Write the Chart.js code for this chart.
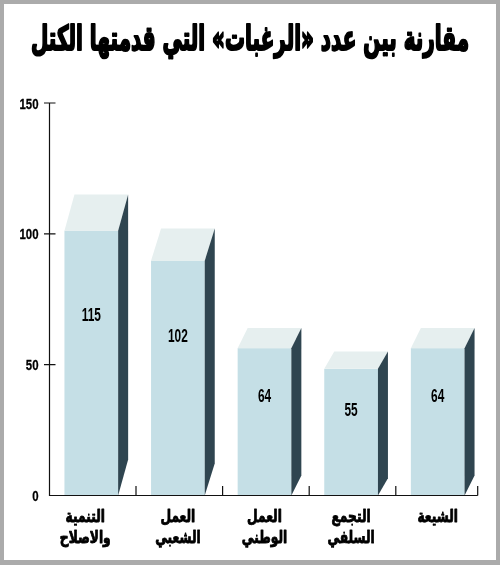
<!DOCTYPE html>
<html lang="ar">
<head>
<meta charset="utf-8">
<script src="https://cdn.jsdelivr.net/npm/chart.js@4"></script>
<style>
  html, body { margin: 0; padding: 0; background: #ababab; }
  #sheet { position: absolute; left: 4px; top: 4px; width: 492px; height: 556px; background: #fff; }
  canvas { position: absolute; left: 0; top: 0; }
</style>
</head>
<body>
<div id="sheet"></div>
<canvas id="chart" width="500" height="565" dir="rtl"></canvas>
<script>
const titleText = 'مقارنة بين عدد «الرغبات» التي قدمتها الكتل';
const categories = [
  ['التنمية', 'والاصلاح'],
  ['العمل', 'الشعبي'],
  ['العمل', 'الوطني'],
  ['التجمع', 'السلفي'],
  ['الشيعة']
];
const requests = [115, 102, 64, 55, 64];
const yTicks = [0, 50, 100, 150];

const numberFont = '"Liberation Sans", sans-serif';
const arabicFont = '"DejaVu Sans", sans-serif';

// the boxes are faked 3d: the back edge sits on the value, the front is 12% lower
const depthRatio = 0.12;
const sideWidth = 10;

// the original type is condensed and very heavy, no installed font has that,
// so squeeze the text sideways and thicken it with a stroke
function drawText(ctx, text, x, y, font, squeeze, stroke, align) {
  ctx.save();
  ctx.direction = 'rtl';
  ctx.font = font;
  ctx.fillStyle = '#000';
  ctx.strokeStyle = '#000';
  ctx.lineJoin = 'round';
  ctx.lineWidth = stroke;
  ctx.textAlign = align;
  ctx.translate(x, y);
  ctx.scale(squeeze, 1);
  ctx.fillText(text, 0, 0);
  if (stroke) ctx.strokeText(text, 0, 0);
  ctx.restore();
}

const boxes = {
  id: 'boxes',
  beforeDatasetsDraw(chart) {
    const ctx = chart.ctx;
    chart.getDatasetMeta(0).data.forEach((bar) => {
      const { x, y, base, width } = bar.getProps(['x', 'y', 'base', 'width'], true);
      const left = x - width / 2;
      const right = x + width / 2;
      const depth = (base - y) * depthRatio;
      const front = y + depth;

      ctx.fillStyle = '#c5dfe6';
      ctx.fillRect(left, front, width, base - front);

      ctx.fillStyle = '#e6efef';
      ctx.beginPath();
      ctx.moveTo(left, front);
      ctx.lineTo(left + sideWidth, y);
      ctx.lineTo(right + sideWidth, y);
      ctx.lineTo(right, front);
      ctx.closePath();
      ctx.fill();

      ctx.fillStyle = '#2f4550';
      ctx.beginPath();
      ctx.moveTo(right, front);
      ctx.lineTo(right + sideWidth, y);
      ctx.lineTo(right + sideWidth, base - depth);
      ctx.lineTo(right, base);
      ctx.closePath();
      ctx.fill();
    });
  },
  afterDatasetsDraw(chart) {
    chart.getDatasetMeta(0).data.forEach((bar, i) => {
      const { x, y, base } = bar.getProps(['x', 'y', 'base'], true);
      drawText(chart.ctx, String(requests[i]), x, y + (base - y) * 0.4 + 6.5,
        'bold 18px ' + numberFont, 0.66, 0, 'center');
    });
  }
};

const axes = {
  id: 'axes',
  afterDraw(chart) {
    const ctx = chart.ctx;
    const { left, right } = chart.chartArea;
    const yScale = chart.scales.y;
    const xScale = chart.scales.x;
    const axisX = left + 1.5;
    const axisEnd = right - 3.3;
    const base = yScale.getPixelForValue(0);
    const step = xScale.getPixelForValue(1) - xScale.getPixelForValue(0);

    ctx.save();
    ctx.strokeStyle = '#111';
    ctx.lineWidth = 1.2;
    ctx.beginPath();
    ctx.moveTo(axisX, yScale.getPixelForValue(150));
    ctx.lineTo(axisX, base);
    ctx.lineTo(axisEnd, base);
    yTicks.slice(1).forEach((v) => {
      const py = yScale.getPixelForValue(v);
      ctx.moveTo(axisX - 5.5, py);
      ctx.lineTo(axisX + 6, py);
    });
    categories.forEach((c, i) => {
      const px = Math.min(xScale.getPixelForValue(i) + step / 2 + 1.4, axisEnd);
      ctx.moveTo(px, base);
      ctx.lineTo(px, base - 9.5);
    });
    ctx.stroke();
    ctx.restore();

    yTicks.forEach((v) => {
      drawText(ctx, String(v), 38.5, yScale.getPixelForValue(v) + 5.5,
        'bold 15px ' + numberFont, 0.76, 0.3, 'right');
    });

    categories.forEach((lines, i) => {
      // first label sits a little left of its bar in the original
      const px = xScale.getPixelForValue(i) + (i === 0 ? -6 : 0);
      lines.forEach((line, n) => {
        drawText(ctx, line, px, base + 26 + n * 21,
          'bold 17px ' + arabicFont, 0.72, 0.9, 'center');
      });
    });

    ctx.save();
    ctx.font = 'bold 34px ' + arabicFont;
    const fit = 438 / ctx.measureText(titleText).width;
    ctx.restore();
    drawText(ctx, titleText, 250, 50, 'bold 34px ' + arabicFont, fit, 2.2, 'center');
  }
};

new Chart(document.getElementById('chart'), {
  type: 'bar',
  data: {
    labels: categories,
    datasets: [{
      data: requests,
      backgroundColor: 'transparent',
      barPercentage: 0.62,
      categoryPercentage: 1
    }]
  },
  options: {
    responsive: false,
    animation: false,
    layout: { padding: { top: 103, right: 19, bottom: 69.5, left: 0 } },
    plugins: {
      legend: { display: false },
      tooltip: { enabled: false },
      title: { display: false }
    },
    scales: {
      y: {
        min: 0,
        max: 150,
        afterFit: (scale) => { scale.width = 48; },
        afterBuildTicks: (scale) => { scale.ticks = yTicks.map((value) => ({ value })); },
        border: { display: false },
        grid: { display: false },
        ticks: { display: false }
      },
      x: {
        afterFit: (scale) => { scale.height = 0; },
        border: { display: false },
        grid: { display: false },
        ticks: { display: false, autoSkip: false }
      }
    }
  },
  plugins: [boxes, axes]
});
</script>
</body>
</html>
